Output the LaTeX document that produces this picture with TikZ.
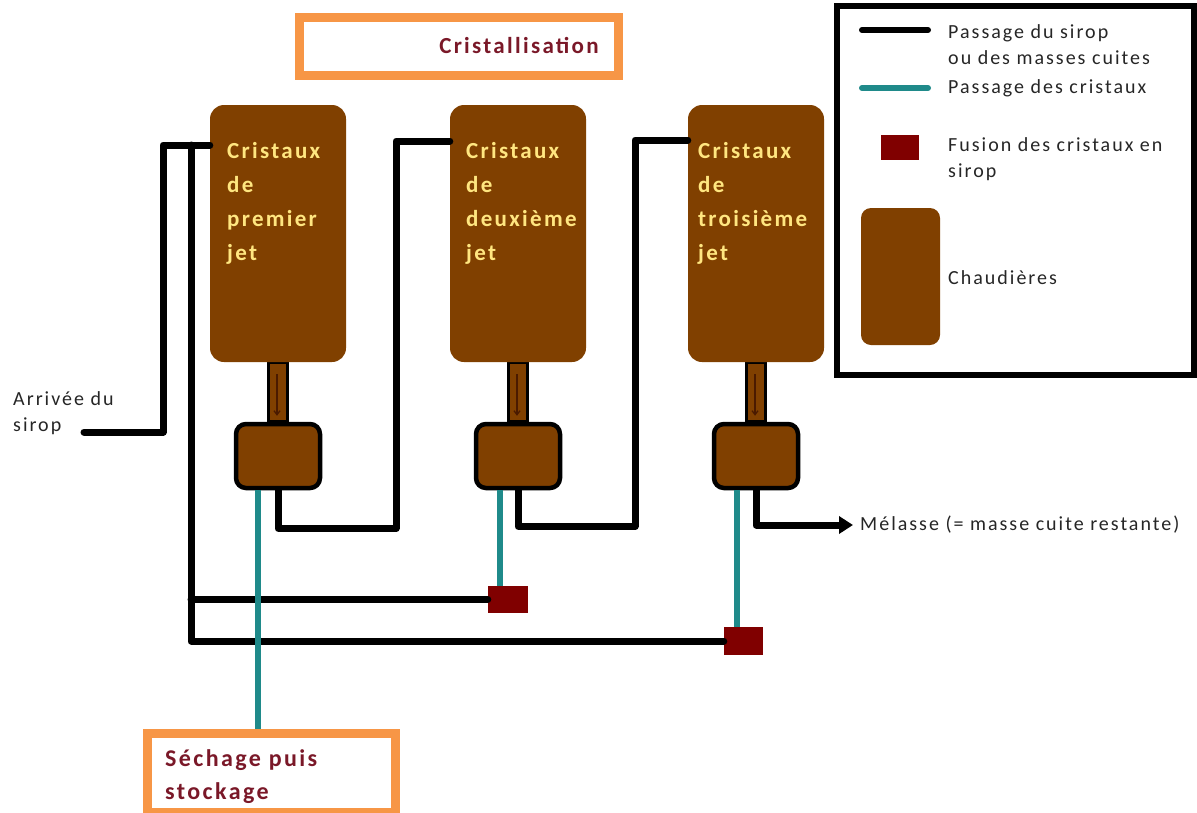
\documentclass[tikz,border=0pt]{standalone}
\usepackage{fontspec}
\setmainfont{Carlito}[LetterSpace=10]
\usetikzlibrary{arrows.meta,calc}
\definecolor{boilerbrown}{HTML}{804000}
\definecolor{boilertext}{HTML}{FFE680}
\definecolor{pipeteal}{HTML}{1F8A8A}
\definecolor{fusionred}{HTML}{800000}
\definecolor{titlered}{HTML}{7A1828}
\definecolor{boxorange}{HTML}{F79646}
\definecolor{stemarrow}{HTML}{4A1A00}
\begin{document}
\begin{tikzpicture}[x=1pt,y=-1pt,
  boiler/.style={fill=boilerbrown, rounded corners=14pt, minimum width=136pt, minimum height=257pt, inner sep=0pt},
  basin/.style={draw=black, line width=4.5pt, fill=boilerbrown, rounded corners=10pt, minimum width=84pt, minimum height=64pt, inner sep=0pt},
  stemnode/.style={draw=black, line width=3.5pt, fill=boilerbrown, minimum width=19pt, minimum height=60pt, inner sep=0pt},
  fusion/.style={fill=fusionred, inner sep=0pt},
  pipe/.style={draw=black, line width=7pt, line cap=round, line join=round},
  crystal/.style={draw=pipeteal, line width=6pt},
  flowarrow/.style={draw=stemarrow, line width=1.3pt, -{Straight Barb[length=4pt,width=6pt]}},
  boilerlabel/.style={text=boilertext, font=\bfseries\fontsize{23}{34}\selectfont, align=left, anchor=north west, inner sep=0pt},
  legtext/.style={font=\fontsize{20}{26}\selectfont, align=left, anchor=west, inner sep=0pt, text=black!85},
  orangebox/.style={draw=boxorange, line width=9pt, fill=white, inner sep=0pt},
  redtitle/.style={text=titlered, font=\bfseries\fontsize{23}{33}\selectfont, inner sep=0pt}
]
\useasboundingbox (0,0) rectangle (1197,812);
\fill[white] (0,0) rectangle (1197,812);

% title
\node[orangebox, minimum width=319pt, minimum height=58pt] (titlebox) at (459,46.5) {};
\node[redtitle] (title) at (519,45) {Cristallisation};

% stems (behind boilers)
\node[stemnode] (s1) at (278,392) {};
\node[stemnode] (s2) at (518,392) {};
\node[stemnode] (s3) at (756,392) {};
\draw[flowarrow] ($(s1.north)+(-1,14)$) -- ($(s1.south)+(-1,-8)$);
\draw[flowarrow] ($(s2.north)+(-1,14)$) -- ($(s2.south)+(-1,-8)$);
\draw[flowarrow] ($(s3.north)+(-1,14)$) -- ($(s3.south)+(-1,-8)$);

% boilers
\node[boiler] (b1) at (278,233.5) {};
\node[boiler] (b2) at (518,233.5) {};
\node[boiler] (b3) at (756,233.5) {};
\node[boilerlabel] (b1t) at (227,142) {Cristaux\\de\\premier\\jet};
\node[boilerlabel] (b2t) at (466,142) {Cristaux\\de\\deuxième\\jet};
\node[boilerlabel] (b3t) at (698,142) {Cristaux\\de\\troisième\\jet};

% basins
\node[basin] (sb1) at (278,456) {};
\node[basin] (sb2) at (518,456) {};
\node[basin] (sb3) at (756,456) {};

% fusion squares
\node[fusion, minimum width=40pt, minimum height=27pt] (f1) at (508,599.5) {};
\node[fusion, minimum width=39pt, minimum height=28pt] (f2) at (743.5,641) {};

% drying box
\node[orangebox, minimum width=248pt, minimum height=79pt] (sech) at (271,772.5) {};
\node[redtitle, font=\bfseries\fontsize{24}{33}\selectfont, align=left, anchor=north west] (secht) at (165,749) {Séchage puis\\stockage};

% syrup arrival
\coordinate (arr) at (84,432);
\coordinate (ac) at (163,145);
\draw[pipe] (arr) -- (ac |- arr) -- (ac) -- (b1.west |- ac);
\node[legtext, anchor=north west] (arrt) at (13,391) {Arrivée du\\sirop};

% recycle line
\coordinate (lc) at (191,145);
\draw[pipe] (lc) -- (lc |- f2.west) -- (f2.west);
\draw[pipe] (lc |- f1.west) -- (f1.west);

% pipes between stages
\coordinate (r1) at (396,141);
\coordinate (r2) at (635,140);
\coordinate (mel) at (853,525);
\draw[pipe] (sb1.south) -- ++(0,38) -| (r1) -- (b2.west |- r1);
\draw[pipe] (sb2.south) -- ++(0,36) -| (r2) -- (b3.west |- r2);
\draw[pipe, -{Triangle[length=14pt,width=17pt]}] (sb3.south) |- (mel);
\node[legtext] (melt) at (860,525) {Mélasse (= masse cuite restante)};

% crystal lines
\coordinate (t1) at ($(sb1.south)+(-20,0)$);
\coordinate (t2) at ($(sb2.south)+(-18,0)$);
\coordinate (t3) at ($(sb3.south)+(-19,0)$);
\draw[crystal] (t1) -- (t1 |- sech.north);
\draw[crystal] (t2) -- (t2 |- f1.north);
\draw[crystal] (t3) -- (t3 |- f2.north);

% legend
\node[draw=black, line width=6pt, minimum width=357pt, minimum height=369pt, inner sep=0pt] (legend) at (1015.5,190.5) {};
\coordinate (lk1) at (862,30);
\coordinate (lk2) at (928,30);
\coordinate (lt1) at (862,88);
\coordinate (lt2) at (928,88);
\draw[pipe, line width=6pt] (lk1) -- (lk2);
\draw[crystal, line cap=round] (lt1) -- (lt2);
\node[fusion, minimum width=38pt, minimum height=25pt] (lf) at (900,147.5) {};
\node[fill=boilerbrown, rounded corners=10pt, minimum width=79pt, minimum height=137pt, inner sep=0pt] (lb) at (900.5,276.5) {};
\node[legtext] (l1) at (948,45) {Passage du sirop\\ou des masses cuites};
\node[legtext] (l2) at (948,88) {Passage des cristaux};
\node[legtext] (l3) at (948,159) {Fusion des cristaux en\\sirop};
\node[legtext] (l4) at (948,278) {Chaudières};
\end{tikzpicture}
\end{document}
